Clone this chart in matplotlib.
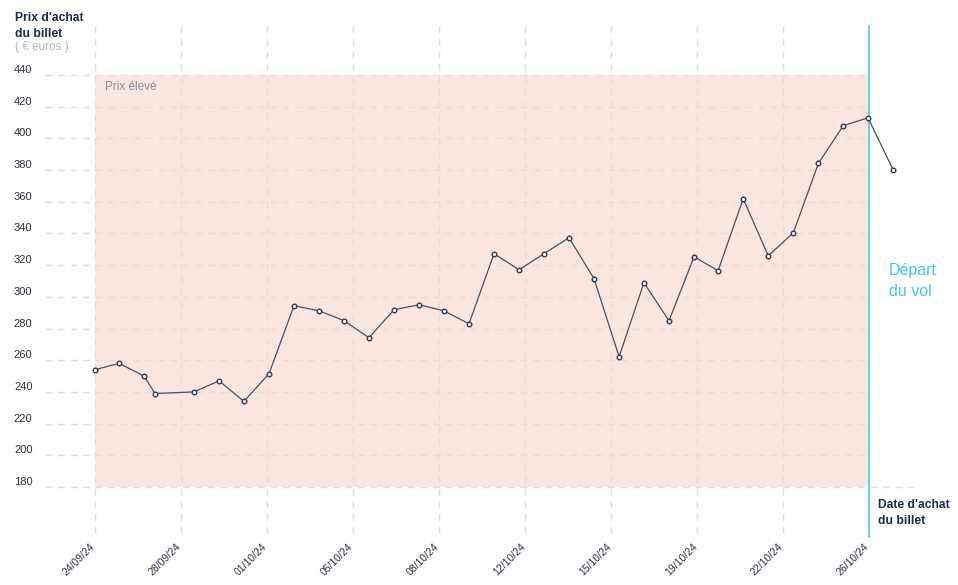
import matplotlib
matplotlib.use("Agg")
import matplotlib.pyplot as plt

plt.rcParams['font.family'] = ['Liberation Sans', 'DejaVu Sans']

# Data (x = days after 24/09/24)
days = [0, 0.98, 2.0, 2.44, 4.03, 5.05, 6.06, 7.08, 8.1, 9.12, 10.13, 11.15,
        12.17, 13.19, 14.2, 15.22, 16.24, 17.26, 18.27, 19.29, 20.31, 21.33,
        22.34, 23.36, 24.38, 25.36, 26.38, 27.4, 28.42, 29.44, 30.45, 31.46, 32.48]
prices = [254, 258, 250, 239, 240, 247, 234, 251.5, 294.4, 291.2, 285, 274.2,
          291.9, 295, 291.2, 283, 327.2, 317.1, 327.2, 337.3, 311.4, 262.2,
          308.9, 284.9, 325.3, 316.5, 361.9, 325.9, 340.4, 384.2, 408, 413, 380.2]
tick_pos = [0, 3.5, 7, 10.5, 14, 17.5, 21, 24.5, 28, 31.5]
tick_labels = ['24/09/24', '28/09/24', '01/10/24', '05/10/24', '08/10/24',
               '12/10/24', '15/10/24', '19/10/24', '22/10/24', '26/10/24']
y_ticks = [180, 200, 220, 240, 260, 280, 300, 320, 340, 360, 380, 400, 420, 440]
depart_day = 31.5
band = (180, 440)

W, H = 958, 585
fig = plt.figure(figsize=(W / 100, H / 100), dpi=100)
ax = fig.add_axes([0, 0, 1, 1])
ax.set_axis_off()

# pixel mapping
x0px, x1px = 95, 869
pxd = (x1px - x0px) / (tick_pos[-1] - tick_pos[0])
y0px, y1px = 487, 75
pyu = (y0px - y1px) / (band[1] - band[0])
ax.set_xlim(-x0px / pxd, (W - x0px) / pxd)
ax.set_ylim(band[0] - (H - y0px) / pyu, band[1] + y1px / pyu)

def px2x(p):
    return (p - x0px) / pxd

def px2y(p):
    return band[0] + (y0px - p) / pyu

grid_c = '#e0e0e0'
dash = (0, (5, 4))

# shaded band
ax.fill_between([0, depart_day], band[0], band[1], color='#fde6e0', lw=0, zorder=0)

# horizontal gridlines
for v in y_ticks:
    xe = px2x(918) if v == band[0] else depart_day
    ax.plot([px2x(45), xe], [v, v], color=grid_c, lw=1, ls=dash, zorder=1)
    ax.text(px2x(32.5), v + 5 / pyu, str(v), ha='right', va='center',
            fontsize=8, color='#2b3145')

# vertical gridlines
for t in tick_pos[:-1]:
    ax.plot([t, t], [px2y(26), px2y(537)], color=grid_c, lw=1, ls=dash, zorder=1)

# departure line
ax.plot([depart_day, depart_day], [px2y(26), px2y(537)], color='#3cc8e8', lw=1.1, zorder=2)

# x tick labels
for t, lab in zip(tick_pos, tick_labels):
    ax.text(t - 5 / pxd, px2y(542), lab, rotation=45, ha='right', va='top',
            rotation_mode='anchor', fontsize=7.5, color='#2b3145')

# data line
ax.plot(days, prices, color='#4a4f63', lw=0.9, marker='o', ms=3.3,
        mfc='white', mec='#2e3a52', mew=1, zorder=4)

# texts
ax.text(px2x(15), px2y(18), "Prix d'achat", fontsize=8.7, fontweight='bold',
        color='#1d2b4f', ha='left', va='center')
ax.text(px2x(15), px2y(34), "du billet", fontsize=8.7, fontweight='bold',
        color='#1d2b4f', ha='left', va='center')
ax.text(px2x(15), px2y(47), "( € euros )", fontsize=8.5, color='#b8b8b8',
        ha='left', va='center')
ax.text(px2x(105), px2y(87), "Prix élevé", fontsize=8.5, color='#8c8c98',
        ha='left', va='center')
ax.text(px2x(889), px2y(270), "Départ", fontsize=11.5, color='#3cc8f0',
        ha='left', va='center')
ax.text(px2x(889), px2y(291), "du vol", fontsize=11.5, color='#3cc8f0',
        ha='left', va='center')
ax.text(px2x(878), px2y(505), "Date d'achat", fontsize=8.7, fontweight='bold',
        color='#1d2b4f', ha='left', va='center')
ax.text(px2x(878), px2y(521), "du billet", fontsize=8.7, fontweight='bold',
        color='#1d2b4f', ha='left', va='center')

fig.savefig('out.png', dpi=100)
